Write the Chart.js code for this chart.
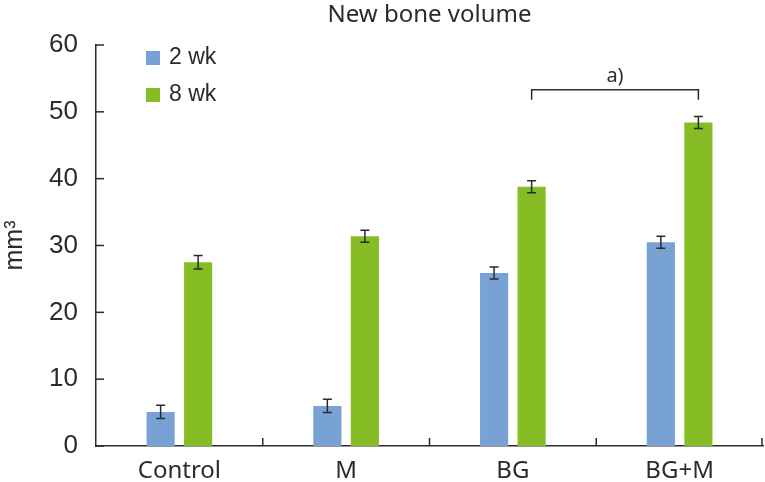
<!DOCTYPE html>
<html>
<head>
<meta charset="utf-8">
<script src="https://cdn.jsdelivr.net/npm/chart.js@4.4.1/dist/chart.umd.min.js"></script>
<style>
  body { margin: 0; background: #fff; }
  #wrap { width: 765px; height: 482px; }
</style>
</head>
<body>
<div id="wrap"><canvas id="myChart"></canvas></div>
<script>
const categories = ['Control', 'M', 'BG', 'BG+M'];
const week2 = [5.1, 6.0, 25.9, 30.5];
const week8 = [27.5, 31.4, 38.8, 48.4];
const err2 = [1.0, 1.0, 0.9, 0.9];
const err8 = [1.0, 0.9, 0.9, 0.9];
const seriesNames = ['2 wk', '8 wk'];
const chartTitle = 'New bone volume';
const bracket = { from: 2, to: 3, y: 53.3, leg: 51.8, label: 'a)' };

const NUMFONT = 'Arial, "Liberation Sans", sans-serif';
const TXTFONT = '"Noto Sans", "Open Sans", sans-serif';
const INK = '#2b2b2b';

const extras = {
    id: 'extras',
    afterDatasetsDraw(chart){
        const ctx = chart.ctx;
        const y = chart.scales.y;
        const area = chart.chartArea;
        ctx.save();
        ctx.strokeStyle = INK;
        ctx.lineWidth = 1.5;

        // title, centred over the plot area
        ctx.fillStyle = INK;
        ctx.font = '24px ' + TXTFONT;
        ctx.textAlign = 'center';
        ctx.textBaseline = 'middle';
        ctx.fillText(chartTitle, (area.left + area.right) / 2, 15);

        // error bars
        [err2, err8].forEach((errs, d) => {
            const vals = d == 0 ? week2 : week8;
            const meta = chart.getDatasetMeta(d);
            meta.data.forEach((bar, i) => {
                const top = y.getPixelForValue(vals[i] + errs[i]);
                const bot = y.getPixelForValue(vals[i] - errs[i]);
                ctx.beginPath();
                ctx.moveTo(bar.x, top); ctx.lineTo(bar.x, bot);
                ctx.moveTo(bar.x - 4.5, top); ctx.lineTo(bar.x + 4.5, top);
                ctx.moveTo(bar.x - 4.5, bot); ctx.lineTo(bar.x + 4.5, bot);
                ctx.stroke();
            });
        });

        // inward ticks on y axis
        y.ticks.forEach((t, i) => {
            const py = y.getPixelForTick(i);
            ctx.beginPath();
            ctx.moveTo(area.left, py); ctx.lineTo(area.left + 8, py);
            ctx.stroke();
        });
        // ticks between categories on x axis
        for (let i = 1; i <= categories.length; i++){
            const px = Math.min(area.left + (area.right - area.left) * i / categories.length, area.right - 1);
            ctx.beginPath();
            ctx.moveTo(px, area.bottom); ctx.lineTo(px, area.bottom - 8);
            ctx.stroke();
        }

        // significance bracket
        const m8 = chart.getDatasetMeta(1);
        const x1 = m8.data[bracket.from].x, x2 = m8.data[bracket.to].x;
        const by = y.getPixelForValue(bracket.y), bl = y.getPixelForValue(bracket.leg);
        ctx.beginPath();
        ctx.moveTo(x1, bl); ctx.lineTo(x1, by); ctx.lineTo(x2, by); ctx.lineTo(x2, bl);
        ctx.stroke();
        ctx.font = '20px ' + TXTFONT;
        ctx.textBaseline = 'bottom';
        ctx.fillText(bracket.label, (x1 + x2) / 2, by - 3);

        // legend
        ctx.font = '23px ' + NUMFONT;
        ctx.textAlign = 'left';
        ctx.textBaseline = 'middle';
        chart.data.datasets.forEach((ds, i) => {
            const ly = 58 + i * 37;
            ctx.fillStyle = ds.backgroundColor;
            ctx.fillRect(146, ly - 7, 14, 14);
            ctx.fillStyle = INK;
            ctx.fillText(ds.label, 169, ly);
        });
        ctx.restore();
    }
};

const ctx = document.getElementById('myChart').getContext('2d');
const myChart = new Chart(ctx, {
    type: 'bar',
    data: {
        labels: categories,
        datasets: [{
            label: seriesNames[0],
            data: week2,
            backgroundColor: '#78a2d4'
        }, {
            label: seriesNames[1],
            data: week8,
            backgroundColor: '#86bc24'
        }]
    },
    options: {
        responsive: true,
        maintainAspectRatio: false,
        animation: false,
        categoryPercentage: 0.45,
        barPercentage: 0.75,
        layout: { padding: { left: 0, right: 2, top: 45, bottom: 0 } },
        plugins: {
            legend: { display: false },
            tooltip: { enabled: false },
            title: { display: false }
        },
        scales: {
            x: {
                grid: { display: false },
                border: { display: true, color: INK, width: 1.5 },
                ticks: { color: INK, font: { family: TXTFONT, size: 24 }, padding: 3 },
                afterFit(scale){ scale.height = 36; }
            },
            y: {
                min: 0,
                max: 60,
                grid: { display: false },
                border: { display: true, color: INK, width: 1.5 },
                ticks: { stepSize: 10, color: INK, font: { family: NUMFONT, size: 26 }, padding: 10 },
                title: { display: true, text: 'mm³', color: INK, font: { family: NUMFONT, size: 25 }, padding: 0 },
                afterFit(scale){ scale.width = 96; }
            }
        }
    },
    plugins: [extras]
});
</script>
</body>
</html>
